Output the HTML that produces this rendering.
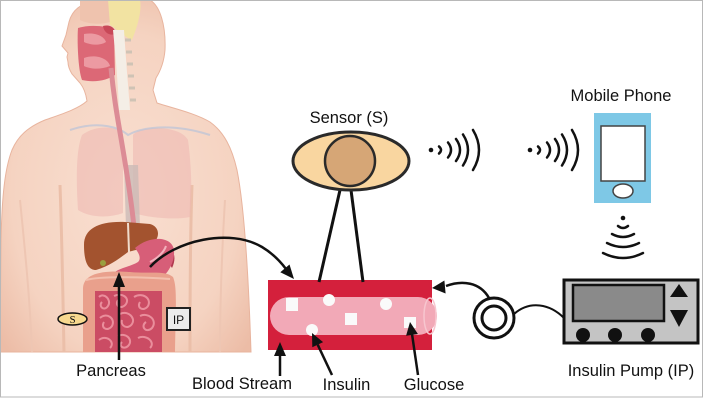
<!DOCTYPE html>
<html><head><meta charset="utf-8">
<style>
html,body{margin:0;padding:0;background:#fff;}
svg{display:block;}
text{font-family:"Liberation Sans",Arial,sans-serif;fill:#111;}
</style></head>
<body>
<svg width="704" height="400" viewBox="0 0 704 400" xmlns="http://www.w3.org/2000/svg">
<defs>
<radialGradient id="skin" cx="0.5" cy="0.55" r="0.65">
<stop offset="0" stop-color="#f9dfd1"/>
<stop offset="0.7" stop-color="#f5d3c1"/>
<stop offset="1" stop-color="#ecbca6"/>
</radialGradient>
</defs>
<rect x="0" y="0" width="704" height="400" fill="#fff"/>

<!-- BODY -->
<path d="M0,352 L1,240 C2,195 5,168 12,150 C18,136 28,127 45,120 C62,114 78,109 87,101 C86,94 84,88 80,83 L72,74 C69,69 68,65 68,62 L67,57 L68,53 L62,46 L66,35 L69,22 C72,10 82,2 100,0 L150,0 C160,6 166,25 165,50 C164,62 161,70 156,78 L153,90 L157,103 C172,108 195,113 210,122 C224,132 232,148 237,170 C243,200 248,260 251,352 Z" fill="url(#skin)" stroke="#e8b49e" stroke-width="1"/>
<path d="M60,185 C62,240 63,300 64,352" stroke="#ebbfa9" stroke-width="3" fill="none"/>
<path d="M192,185 C190,240 190,300 190,352" stroke="#ebbfa9" stroke-width="3" fill="none"/>
<path d="M20,200 C25,250 30,300 32,352" stroke="#eec6b3" stroke-width="2" fill="none"/>
<path d="M225,200 C222,250 220,300 220,352" stroke="#eec6b3" stroke-width="2" fill="none"/>
<path d="M82,135 C95,125 118,125 123,135 L123,213 C110,218 90,218 78,210 C76,180 76,150 82,135 Z" fill="#eeb9b2" opacity="0.6"/>
<path d="M133,135 C140,125 180,125 188,140 C192,170 192,200 190,217 C175,220 150,218 133,213 Z" fill="#eeb9b2" opacity="0.6"/>
<path d="M70,130 C100,120 120,128 128,135 C140,128 170,122 210,135" stroke="#b9c3d8" stroke-width="2" fill="none" opacity="0.7"/>
<path d="M124,165 L138,165 L140,228 L126,228 Z" fill="#cbbab6" opacity="0.8"/>
<!-- head internals -->
<path d="M80,1 L110,1 L110,22 C100,25 88,24 80,20 Z" fill="#efc3ae"/>
<path d="M108,0 L140,0 C142,10 138,25 132,40 C126,38 118,30 110,25 Z" fill="#f2e3a2"/>
<path d="M78,28 C90,24 108,26 114,30 L115,75 C108,80 95,83 82,80 C78,70 77,40 78,28 Z" fill="#dc6876"/>
<path d="M84,34 C95,32 104,36 106,42 C100,46 90,45 84,42 Z" fill="#ec9aa2"/>
<path d="M84,58 C95,54 108,58 110,66 C100,70 90,69 84,66 Z" fill="#ec9aa2"/>
<path d="M103,26 C110,24 116,28 115,34 C110,36 104,33 103,26 Z" fill="#c84858"/>
<path d="M113,30 L124,30 C126,60 128,85 130,110 L119,110 C118,85 116,60 113,30 Z" fill="#f4eee6"/>
<path d="M125,40 h6 M126,52 h6 M127,64 h6 M128,76 h6 M129,88 h6 M130,100 h6" stroke="#cfc3b5" stroke-width="3"/>
<path d="M111,68 C114,100 118,120 123,150 C128,180 132,205 134,228" stroke="#dc8c96" stroke-width="5" fill="none"/>
<!-- liver -->
<path d="M84,245 C84,228 100,221 125,222 L150,224 C158,226 160,234 156,240 C148,248 135,250 128,252 C120,258 110,266 96,270 C88,270 84,262 84,245 Z" fill="#a3532f"/>
<path d="M128,223 L129,252" stroke="#f0dccc" stroke-width="2"/>
<circle cx="103" cy="263" r="3" fill="#9aa040"/>
<path d="M166,246 C174,248 177,258 172,268 C168,262 165,254 166,246 Z" fill="#b23a50"/>
<!-- stomach -->
<path d="M135,248 C150,235 172,236 174,250 C175,262 168,278 150,284 C135,288 118,284 112,276 C115,268 128,268 138,262 C142,258 138,252 135,248 Z" fill="#d75e78"/>
<path d="M150,262 C158,258 164,252 166,246" stroke="#f2b0bc" stroke-width="2" fill="none"/>
<!-- colon -->
<path d="M83,288 C84,274 100,270 130,272 C150,274 165,270 173,277 C177,287 176,300 175,352 L162,352 L162,292 L96,292 L95,352 L83,352 Z" fill="#e9a08c"/>
<path d="M86,280 C100,276 140,277 170,279" stroke="#f3c0ae" stroke-width="2" fill="none"/>
<!-- small intestine -->
<rect x="95" y="291" width="67" height="61" fill="#cb4c64"/>
<g stroke="#ea8e9c" stroke-width="2" fill="none">
<path d="M99,297 C104,292 112,300 108,306 C104,312 98,306 102,302"/>
<path d="M114,296 C122,292 130,298 126,304 C122,310 114,306 118,300"/>
<path d="M134,297 C142,292 152,298 148,306 C144,312 136,308 140,302"/>
<path d="M100,318 C106,312 116,318 112,326 C108,332 100,328 104,322"/>
<path d="M120,314 C128,310 136,318 132,324 C128,330 120,326 122,320"/>
<path d="M140,316 C148,312 158,320 152,328 C146,334 140,326 146,322"/>
<path d="M99,340 C106,334 116,342 110,348"/>
<path d="M118,336 C126,332 134,340 128,346 C124,350 118,346 122,342"/>
<path d="M138,338 C146,334 156,342 150,348"/>
</g>

<!-- S label -->
<ellipse cx="72.5" cy="319" rx="14.5" ry="6" fill="#f7d98f" stroke="#111" stroke-width="1.5"/>
<text x="72.5" y="323" font-size="11" text-anchor="middle" style="font-family:'Liberation Serif',serif">S</text>
<rect x="167" y="308" width="23" height="22" fill="#ececec" stroke="#222" stroke-width="2"/>
<text x="178.5" y="324" font-size="12" text-anchor="middle">IP</text>

<!-- Pancreas arrow -->
<line x1="119" y1="360" x2="119" y2="284" stroke="#111" stroke-width="2.5"/>
<polygon points="119,272 113,287 125,287" fill="#111"/>
<text x="111" y="376" font-size="16.5" text-anchor="middle">Pancreas</text>

<path d="M150,267 C175,240 230,228 262,247 C272,253 280,261 286,269" stroke="#111" stroke-width="2.5" fill="none"/>
<polygon points="294,279 280.3,272.3 289.5,264.5" fill="#111"/>

<!-- Blood vessel -->
<rect x="268" y="280" width="164" height="70" fill="#d4203c"/>
<rect x="270" y="297" width="167" height="38" rx="19" ry="19" fill="#f2a9b7"/>
<ellipse cx="430" cy="316" rx="6" ry="18" fill="none" stroke="#f7c6cf" stroke-width="1.5"/>
<rect x="286" y="298" width="12" height="13" fill="#fafafa"/>
<rect x="345" y="313" width="12" height="12" fill="#fafafa"/>
<rect x="404" y="317" width="12" height="11" fill="#fafafa"/>
<circle cx="329" cy="300" r="6" fill="#fafafa"/>
<circle cx="386" cy="304" r="6" fill="#fafafa"/>
<circle cx="312" cy="330" r="6" fill="#fafafa"/>

<!-- Sensor -->
<line x1="340" y1="190" x2="319" y2="282" stroke="#111" stroke-width="3"/>
<line x1="351" y1="190" x2="363" y2="282" stroke="#111" stroke-width="3"/>
<ellipse cx="351" cy="161" rx="58" ry="29" fill="#f9d6a0" stroke="#2a2a2a" stroke-width="3"/>
<circle cx="350" cy="161" r="25" fill="#d6a676" stroke="#2a2a2a" stroke-width="2.5"/>
<text x="349" y="123" font-size="16.5" text-anchor="middle">Sensor (S)</text>

<g stroke="#111" stroke-width="2.5" fill="none" stroke-linecap="round">
<path d="M439,146.5 Q443,150 439,153.5 M448,142.5 Q454,150 448,157.5 M456,139 Q464,150 456,161 M463,134.5 Q473,150 463,165.5 M473,130 Q485,150 473,170"/>
<path d="M538,146.5 Q542,150 538,153.5 M547,142.5 Q553,150 547,157.5 M555,139 Q563,150 555,161 M562,134.5 Q572,150 562,165.5 M572,130 Q584,150 572,170"/>
<path d="M618,226 Q623,230 628,226 M612,234 Q623,240 634,234 M607,243 Q623,251 639,243 M603,253 Q623,263 643,253"/>
</g>
<circle cx="431" cy="150" r="2.3" fill="#111"/>
<circle cx="530" cy="150" r="2.3" fill="#111"/>
<circle cx="623" cy="218" r="2.3" fill="#111"/>

<text x="621" y="101" font-size="16.5" text-anchor="middle">Mobile Phone</text>
<rect x="594" y="113" width="57" height="90" fill="#7ec8e6"/>
<rect x="601" y="126" width="44" height="55" fill="#fff" stroke="#444" stroke-width="1.5"/>
<ellipse cx="623" cy="191" rx="10" ry="7" fill="#fff" stroke="#444" stroke-width="1.5"/>

<rect x="564" y="280" width="134" height="63" fill="#c4c4c4" stroke="#111" stroke-width="3"/>
<rect x="573" y="285" width="91" height="36" fill="#8a8a8a" stroke="#111" stroke-width="2.5"/>
<polygon points="679,284 670,297 688,297" fill="#111"/>
<polygon points="679,327 670,310 688,310" fill="#111"/>
<circle cx="583" cy="335" r="7" fill="#111"/>
<circle cx="615" cy="335" r="7" fill="#111"/>
<circle cx="648" cy="335" r="7" fill="#111"/>
<text x="631" y="376" font-size="16.5" text-anchor="middle">Insulin Pump (IP)</text>

<path d="M514,314 C530,300 550,304 564,318" stroke="#111" stroke-width="2" fill="none"/>
<circle cx="494" cy="318" r="20" fill="#fff" stroke="#111" stroke-width="3"/>
<circle cx="494" cy="318" r="12" fill="#fff" stroke="#111" stroke-width="3"/>
<path d="M489,298 C480,282 462,280 446,286" stroke="#111" stroke-width="2.5" fill="none"/>
<polygon points="432,288 445.6,293.5 444.4,280.5" fill="#111"/>

<line x1="280" y1="376" x2="280" y2="353" stroke="#111" stroke-width="2.5"/>
<polygon points="280,342 274,356 286,356" fill="#111"/>
<text x="242" y="389" font-size="16.5" text-anchor="middle">Blood Stream</text>

<line x1="332" y1="375" x2="317.7" y2="344.7" stroke="#111" stroke-width="2.5"/>
<polygon points="312,333 323.1,342.1 312.3,347.3" fill="#111"/>
<text x="346.5" y="390" font-size="16.5" text-anchor="middle">Insulin</text>

<line x1="418" y1="375" x2="412" y2="334" stroke="#111" stroke-width="2.5"/>
<polygon points="410,322 417.9,334 406.1,335.8" fill="#111"/>
<text x="434" y="390" font-size="16.5" text-anchor="middle">Glucose</text>

<rect x="0.5" y="0.5" width="702" height="396.5" fill="none" stroke="#b8b8b8" stroke-width="1"/>
</svg>
</body></html>
